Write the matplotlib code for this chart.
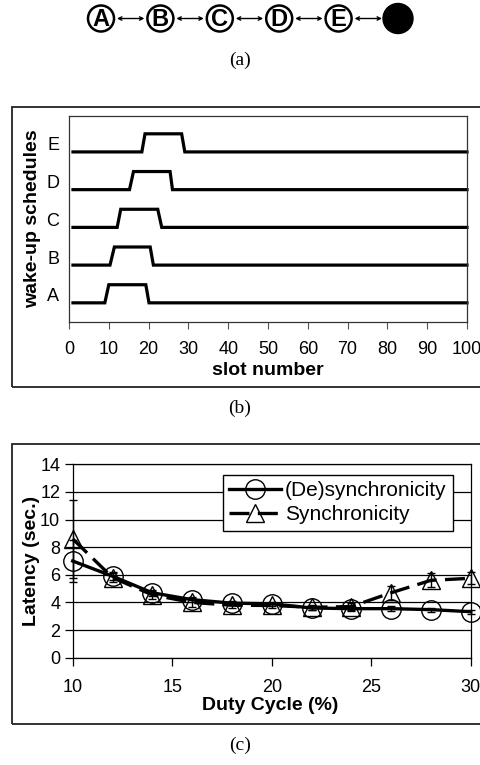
import matplotlib
matplotlib.use("Agg")
import matplotlib.pyplot as plt
from matplotlib.patches import Circle, Rectangle

plt.rcParams['font.family'] = ['Liberation Sans', 'DejaVu Sans']

W, H = 480, 765

# (a) chain of nodes
nodes = ['A', 'B', 'C', 'D', 'E']

# (b) wake-up schedules: slot where each pulse rises / falls
schedules = ['A', 'B', 'C', 'D', 'E']
rise_start = [9, 10.3, 12.1, 15.2, 18.3]
rise_end = [10, 11.4, 13, 16.2, 19.1]
fall_start = [19.3, 20.4, 22.3, 25.4, 28.3]
fall_end = [20.1, 21.2, 23.3, 26, 29.1]
slot_ticks = list(range(0, 101, 10))

# (c) latency vs duty cycle
duty = [10, 12, 14, 16, 18, 20, 22, 24, 26, 28, 30]
desync = [7.0, 5.9, 4.7, 4.2, 3.95, 3.9, 3.6, 3.55, 3.55, 3.48, 3.33]
desync_err = [1.5, 0.3, 0.2, 0.2, 0.15, 0.15, 0.15, 0.15, 0.2, 0.15, 0.15]
sync = [8.6, 5.8, 4.55, 4.0, 3.8, 3.78, 3.65, 3.7, 4.7, 5.6, 5.75]
sync_err = [2.8, 0.3, 0.3, 0.3, 0.2, 0.2, 0.2, 0.25, 0.5, 0.5, 0.45]


def box(x0, y0, x1, y1):
    # rectangle in pixel coords (y from top)
    return [x0 / W, 1 - y1 / H, (x1 - x0) / W, (y1 - y0) / H]


fig = plt.figure(figsize=(W / 100, H / 100), dpi=100)

# ---------- (a) ----------
ax_a = fig.add_axes([0, 0, 1, 1], facecolor='none')
ax_a.set_xlim(0, W)
ax_a.set_ylim(H, 0)
ax_a.axis('off')
x0, step, yc, r = 101, 59.4, 18.5, 13
for i, n in enumerate(nodes):
    cx = x0 + i * step
    ax_a.add_patch(Circle((cx, yc), r, fill=False, lw=1.8, ec='black'))
    ax_a.text(cx, yc + 1, n, ha='center', va='center', fontsize=17, fontweight='bold')
    nx = x0 + (i + 1) * step
    ax_a.annotate('', xy=(nx - 16, yc), xytext=(cx + r + 3, yc),
                  arrowprops=dict(arrowstyle='<->', lw=1.0, color='black',
                                  shrinkA=0, shrinkB=0, mutation_scale=6))
ax_a.add_patch(Circle((x0 + 5 * step, yc), 15, color='black'))

fig.text(240 / W, 1 - 60 / H, '(a)', family='Liberation Serif', fontsize=14,
         ha='center', va='center')

# ---------- (b) ----------
fig.add_artist(Rectangle((12 / W, 1 - 387 / H), 480 / W, 280 / H, fill=False,
                         lw=1.3, ec='#222222', transform=fig.transFigure))
ax_b = fig.add_axes(box(69, 115.7, 467, 321.7))
h = 0.48
for i, s in enumerate(schedules):
    lvl = i + 1
    xs = [1, rise_start[i], rise_end[i], fall_start[i], fall_end[i], 100]
    ys = [lvl, lvl, lvl + h, lvl + h, lvl, lvl]
    ax_b.plot(xs, ys, color='black', lw=2.3, clip_on=False, solid_joinstyle='miter')
ax_b.set_xlim(0, 100)
ax_b.set_ylim(0.5, 5.96)
ax_b.set_xticks(slot_ticks)
ax_b.set_yticks([i + 1.21 for i in range(len(schedules))])
ax_b.set_yticklabels(schedules)
ax_b.tick_params(axis='x', direction='out', length=5, width=0.8, color='#555555',
                 labelsize=13, pad=9)
ax_b.tick_params(axis='y', length=0, labelsize=13, pad=7)
for sp in ax_b.spines.values():
    sp.set_linewidth(0.9)
    sp.set_color('#333333')
fig.text(33 / W, 1 - 218.7 / H, 'wake-up schedules', rotation=90, ha='center',
         va='center', fontsize=14, fontweight='bold')
fig.text(268 / W, 1 - 370 / H, 'slot number', ha='center', va='center',
         fontsize=14, fontweight='bold')
fig.text(240 / W, 1 - 408 / H, '(b)', family='Liberation Serif', fontsize=14,
         ha='center', va='center')

# ---------- (c) ----------
fig.add_artist(Rectangle((12 / W, 1 - 724 / H), 480 / W, 280 / H, fill=False,
                         lw=1.3, ec='#222222', transform=fig.transFigure))
ax_c = fig.add_axes(box(72.7, 464.3, 470.7, 657.7))
ax_c.errorbar(duty, desync, yerr=desync_err, fmt='none', ecolor='black',
              elinewidth=1.0, capsize=3, capthick=1.0, clip_on=False)
ax_c.errorbar(duty, sync, yerr=sync_err, fmt='none', ecolor='black',
              elinewidth=1.0, capsize=3, capthick=1.0, clip_on=False)
ax_c.plot(duty, desync, color='black', lw=2.4, marker='o', ms=14, mfc='none',
          mec='black', mew=1.0, label='(De)synchronicity', clip_on=False)
ax_c.plot(duty, sync, color='black', lw=2.4, ls='--', dashes=(6, 2.5), marker='^',
          ms=13, mfc='none', mec='black', mew=1.0, label='Synchronicity', clip_on=False)
ax_c.set_xlim(10, 30)
ax_c.set_ylim(0, 14)
ax_c.set_xticks([10, 15, 20, 25, 30])
ax_c.set_yticks(range(0, 15, 2))
ax_c.yaxis.grid(True, color='black', lw=0.9)
ax_c.set_axisbelow(True)
ax_c.tick_params(axis='x', direction='out', length=6, width=0.9, labelsize=13, pad=9)
ax_c.tick_params(axis='y', direction='out', length=6, width=0.9, labelsize=13, pad=3)
for sp in ax_c.spines.values():
    sp.set_linewidth(0.9)
    sp.set_color('black')
leg = ax_c.legend(loc='upper right', bbox_to_anchor=(0.9555, 0.9447), fontsize=15,
                  handlelength=2.5, handletextpad=0.2, labelspacing=0.25,
                  borderpad=0.3, borderaxespad=0, fancybox=False, framealpha=1)
leg.get_frame().set_edgecolor('black')
leg.get_frame().set_linewidth(1.0)
fig.text(32 / W, 1 - 561 / H, 'Latency (sec.)', rotation=90, ha='center',
         va='center', fontsize=14, fontweight='bold')
fig.text(270 / W, 1 - 705 / H, 'Duty Cycle (%)', ha='center', va='center',
         fontsize=14, fontweight='bold')
fig.text(240 / W, 1 - 745 / H, '(c)', family='Liberation Serif', fontsize=14,
         ha='center', va='center')

fig.savefig('out.png', dpi=100)
